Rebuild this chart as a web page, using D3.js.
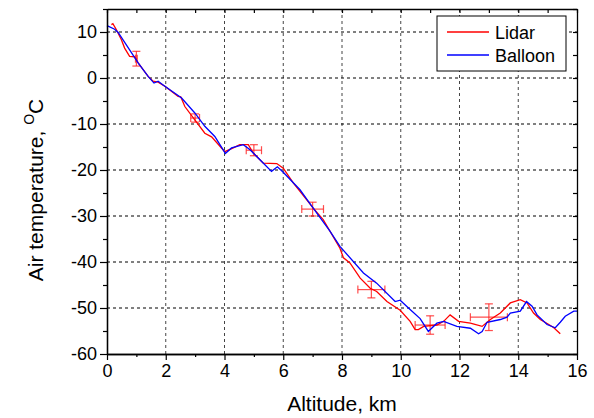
<!DOCTYPE html>
<html>
<head>
<meta charset="utf-8">
<script src="https://cdn.jsdelivr.net/npm/d3@7"></script>
<style>
  body { margin: 0; background: #fff; }
  svg { font-family: "Liberation Sans", Arial, sans-serif; }
</style>
</head>
<body>
<div id="chart"></div>
<script>
// balloon sounding
var balloonAlt = [0.0, 0.26, 0.38, 1.06, 1.40, 1.6, 1.74, 1.91, 2.54, 2.99, 3.33, 3.67, 4.03, 4.24, 4.64, 4.87,
  5.6, 5.8, 6.0, 6.57, 7.02, 7.59, 7.93, 8.73, 9.18, 9.81, 9.98, 10.3, 10.66, 10.94, 11.23, 11.46, 11.91,
  12.37, 12.65, 12.77, 12.94, 13.39, 13.62, 13.73, 14.07, 14.28, 14.47, 14.64, 14.98, 15.26, 15.43, 15.6, 15.89, 16.0];
var balloonT = [11.4, 10.6, 9.9, 3.3, 0.35, -1.1, -0.7, -1.5, -4.35, -7.6, -10.5, -12.7, -16.4, -15.2, -14.5, -15.6,
  -20.3, -19.3, -20.5, -24.3, -28.3, -33.3, -36.6, -42.4, -44.6, -48.6, -48.3, -50.2, -52.3, -55.1, -53.3, -52.9, -54.0,
  -54.4, -55.6, -55.1, -53.1, -52.5, -52.0, -51.1, -50.7, -48.6, -49.6, -51.5, -53.6, -54.3, -53.1, -51.8, -50.7, -50.7];

// lidar profile
var lidarAlt = [0.15, 0.2, 0.32, 0.49, 0.6, 0.77, 0.94, 1.06, 1.4, 1.57, 1.74, 1.97, 2.42, 2.51, 2.65, 2.99, 3.33,
  3.56, 3.95, 4.01, 4.3, 4.52, 4.81, 4.98, 5.32, 5.78, 6.0, 6.34, 6.8, 7.02, 7.36, 7.93, 8.05, 8.27, 8.62, 8.96,
  9.18, 9.53, 9.98, 10.32, 10.49, 10.6, 10.78, 11.23, 11.46, 11.68, 11.97, 12.37, 12.77, 13.05, 13.39, 13.73,
  14.07, 14.3, 14.52, 14.75, 15.04, 15.21, 15.43];
var lidarT = [11.6, 11.8, 10.5, 8.3, 6.5, 4.7, 4.6, 3.3, 0.35, -0.7, -0.9, -1.8, -4.0, -4.1, -6.2, -9.1, -12.0,
  -12.8, -15.6, -16.0, -15.2, -14.5, -14.5, -16.3, -18.5, -18.6, -19.6, -22.8, -26.5, -28.3, -30.8, -37.0, -39.1, -40.2, -43.5, -45.7,
  -46.4, -48.6, -50.5, -52.9, -54.7, -54.7, -54.0, -53.7, -52.9, -51.5, -52.9, -53.3, -54.0, -52.5, -51.1, -48.9,
  -48.2, -48.9, -51.1, -52.5, -53.6, -54.3, -55.6];

// lidar error bars
var errAlt = [1, 3, 5, 7, 9, 11, 13];
var errT = [4.2, -8.7, -15.7, -28.5, -46.0, -53.7, -52.0];
var errX = [0.03, 0.15, 0.26, 0.37, 0.46, 0.51, 0.63];
var errY = [1.6, 0.9, 1.2, 1.5, 1.8, 2.0, 2.9];

var xTicks = [0, 2, 4, 6, 8, 10, 12, 14, 16];
var yTicks = [-60, -50, -40, -30, -20, -10, 0, 10];
var xMinor = [1, 3, 5, 7, 9, 11, 13, 15];
var yMinor = [-55, -45, -35, -25, -15, -5, 5, 15];

var width = 594, height = 418;
var margin = {top: 9, right: 17, bottom: 64, left: 107};
var w = width - margin.left - margin.right,
    h = height - margin.top - margin.bottom;

var svg = d3.select("#chart").append("svg")
  .attr("width", width)
  .attr("height", height);

var g = svg.append("g")
  .attr("transform", "translate(" + margin.left + "," + margin.top + ")");

var x = d3.scaleLinear().domain([0, 16]).range([0, w]),
    y = d3.scaleLinear().domain([-60, 15]).range([h, 0]);

// grid
g.append("g").selectAll("line")
  .data(xTicks.filter(function (d) { return d > 0 && d < 16; }))
  .enter().append("line")
  .attr("x1", function (d) { return x(d); })
  .attr("x2", function (d) { return x(d); })
  .attr("y1", 0).attr("y2", h)
  .attr("stroke", "#444")
  .attr("stroke-dasharray", "3,3");

g.append("g").selectAll("line")
  .data(yTicks.filter(function (d) { return d > -60; }))
  .enter().append("line")
  .attr("x1", 0).attr("x2", w)
  .attr("y1", function (d) { return y(d); })
  .attr("y2", function (d) { return y(d); })
  .attr("stroke", "#000")
  .attr("stroke-dasharray", "3,3");

// curves
var line = d3.line()
  .x(function (d) { return x(d[0]); })
  .y(function (d) { return y(d[1]); });

var err = g.append("g")
  .attr("stroke", "#ff2020")
  .attr("stroke-opacity", 0.8)
  .attr("stroke-width", 1.2);
errAlt.forEach(function (a, i) {
  var cx = x(a), cy = y(errT[i]);
  var x0 = x(a - errX[i]), x1 = x(a + errX[i]);
  var y0 = y(errT[i] + errY[i]), y1 = y(errT[i] - errY[i]);
  err.append("line").attr("x1", x0).attr("x2", x1).attr("y1", cy).attr("y2", cy);
  err.append("line").attr("x1", cx).attr("x2", cx).attr("y1", y0).attr("y2", y1);
  err.append("line").attr("x1", cx - 4).attr("x2", cx + 4).attr("y1", y0).attr("y2", y0);
  err.append("line").attr("x1", cx - 4).attr("x2", cx + 4).attr("y1", y1).attr("y2", y1);
  err.append("line").attr("x1", x0).attr("x2", x0).attr("y1", cy - 4).attr("y2", cy + 4);
  err.append("line").attr("x1", x1).attr("x2", x1).attr("y1", cy - 4).attr("y2", cy + 4);
});

g.append("path")
  .datum(d3.zip(lidarAlt, lidarT))
  .attr("fill", "none")
  .attr("stroke", "#ff0000")
  .attr("stroke-width", 1.3)
  .attr("d", line);

g.append("path")
  .datum(d3.zip(balloonAlt, balloonT))
  .attr("fill", "none")
  .attr("stroke", "#0000ff")
  .attr("stroke-width", 1.3)
  .attr("d", line);

// axes
function style(sel) {
  sel.selectAll("path").attr("stroke", "#000").attr("stroke-width", 1.3);
  sel.selectAll("line").attr("stroke", "#000").attr("stroke-width", 1.2);
  sel.selectAll("text").style("font-size", "18px").attr("fill", "#000");
}
var plain = function (d) { return String(d); };

g.append("g")
  .attr("transform", "translate(0," + h + ")")
  .call(d3.axisBottom(x).tickValues(xTicks).tickFormat(plain).tickSize(6).tickSizeOuter(0).tickPadding(4))
  .call(style);
g.append("g")
  .attr("transform", "translate(0," + h + ")")
  .call(d3.axisBottom(x).tickValues(xMinor).tickSize(3).tickFormat("").tickSizeOuter(0))
  .call(style);
g.append("g")
  .call(d3.axisLeft(y).tickValues(yTicks).tickFormat(plain).tickSize(7).tickSizeOuter(0).tickPadding(3))
  .call(style);
g.append("g")
  .call(d3.axisLeft(y).tickValues(yMinor).tickSize(4).tickFormat("").tickSizeOuter(0))
  .call(style);
g.append("g")
  .call(d3.axisTop(x).tickValues(xTicks.concat(xMinor)).tickSize(-4).tickFormat("").tickSizeOuter(0))
  .call(style);
g.append("g")
  .attr("transform", "translate(" + w + ",0)")
  .call(d3.axisRight(y).tickValues(yTicks.concat(yMinor)).tickSize(-4).tickFormat("").tickSizeOuter(0))
  .call(style);

// axis titles
svg.append("text")
  .attr("x", margin.left + w / 2)
  .attr("y", 411)
  .attr("text-anchor", "middle")
  .style("font-size", "21px")
  .text("Altitude, km");

var yt = svg.append("text")
  .attr("transform", "translate(43,190) rotate(-90)")
  .attr("text-anchor", "middle")
  .style("font-size", "21px");
yt.append("tspan").text("Air temperature, ");
yt.append("tspan").attr("dy", -9).style("font-size", "14px").text("O");
yt.append("tspan").attr("dy", 9).text("C");

// legend
var legendNames = ["Lidar", "Balloon"];
var legendColors = ["#ff0000", "#0000ff"];
var lg = svg.append("g").attr("transform", "translate(437,16)");
lg.append("rect")
  .attr("width", 129).attr("height", 55)
  .attr("fill", "#fff").attr("stroke", "#000").attr("stroke-width", 1);
legendNames.forEach(function (n, i) {
  var ly = 16 + i * 23;
  lg.append("line").attr("x1", 10).attr("x2", 52).attr("y1", ly).attr("y2", ly)
    .attr("stroke", legendColors[i]).attr("stroke-width", 1.3);
  lg.append("text").attr("x", 58).attr("y", ly + 6.5)
    .style("font-size", "18px").text(n);
});
</script>
</body>
</html>
